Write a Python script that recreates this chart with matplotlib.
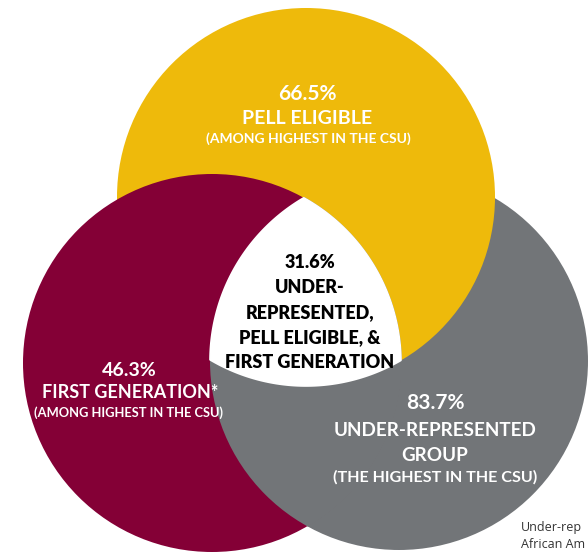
import numpy as np
import matplotlib
matplotlib.use("Agg")
import matplotlib.pyplot as plt
from matplotlib.patches import Circle, Polygon

# ---- data ----
groups = ["Pell Eligible", "First Generation", "Under-Represented Group"]
values = [66.5, 46.3, 83.7]
overlap_value = 31.6
headings = [["PELL ELIGIBLE"], ["FIRST GENERATION*"], ["UNDER-REPRESENTED", "GROUP"]]
notes = ["(AMONG HIGHEST IN THE CSU)", "(AMONG HIGHEST IN THE CSU)", "(THE HIGHEST IN THE CSU)"]
overlap_lines = ["UNDER-", "REPRESENTED,", "PELL ELIGIBLE, &", "FIRST GENERATION"]
footnote_lines = ["Under-rep", "African Am"]

# ---- style / layout ----
colors = ["#EEBA0B", "#840036", "#727578"]
centers = [(306, 197), (212, 363), (399, 361)]
R = 189

fig = plt.figure(figsize=(5.88, 5.54), dpi=100)
ax = fig.add_axes([0, 0, 1, 1])
ax.set_xlim(0, 588)
ax.set_ylim(554, 0)
ax.set_aspect("equal")
ax.axis("off")

# draw order: gray, yellow, maroon, then gray over maroon (cyclic overlap)
ax.add_patch(Circle(centers[2], R, fc=colors[2], ec="none", zorder=1))
ax.add_patch(Circle(centers[0], R, fc=colors[0], ec="none", zorder=2))
ax.add_patch(Circle(centers[1], R, fc=colors[1], ec="none", zorder=3))
g2 = Circle(centers[2], R, fc=colors[2], ec="none", zorder=4)
ax.add_patch(g2)
g2.set_clip_path(Circle(centers[1], R + 0.8, transform=ax.transData))

# triple intersection (white)
theta = np.linspace(0, 2 * np.pi, 3000)
pts = []
C = np.array(centers, dtype=float)
for i in range(3):
    p = C[i] + R * np.column_stack([np.cos(theta), np.sin(theta)])
    ok = np.ones(len(p), bool)
    for j in range(3):
        if j != i:
            ok &= np.hypot(*(p - C[j]).T) <= R + 1e-6
    pts.append(p[ok])
pts = np.vstack(pts)
cen = pts.mean(axis=0)
order = np.argsort(np.arctan2(pts[:, 1] - cen[1], pts[:, 0] - cen[0]))
ax.add_patch(Polygon(pts[order], closed=True, fc="white", ec="white", lw=1.2,
                     joinstyle="round", zorder=5))

font = "Lato"
# yellow texts
ax.text(307, 100, f"{values[0]}%", ha="center", va="baseline", color="white",
        fontsize=15, fontweight="bold", family=font, zorder=10)
ax.text(307, 124, headings[0][0], ha="center", va="baseline", color="white",
        fontsize=14, fontweight="bold", family=font, zorder=10)
ax.text(308, 143, notes[0], ha="center", va="baseline", color="white",
        fontsize=10, fontweight="bold", family=font, zorder=10)

# maroon texts
ax.text(129, 376, f"{values[1]}%", ha="center", va="baseline", color="white",
        fontsize=14, fontweight="bold", family=font, zorder=10)
ax.text(130, 398, headings[1][0], ha="center", va="baseline", color="white",
        fontsize=13, fontweight="bold", family=font, zorder=10)
ax.text(129, 417, notes[1], ha="center", va="baseline", color="white",
        fontsize=9.3, fontweight="bold", family=font, zorder=10)

# gray texts
ax.text(435, 409, f"{values[2]}%", ha="center", va="baseline", color="white",
        fontsize=15, fontweight="bold", family=font, zorder=10)
ax.text(435, 436, headings[2][0], ha="center", va="baseline", color="white",
        fontsize=13.6, fontweight="bold", family=font, zorder=10)
ax.text(435, 461, headings[2][1], ha="center", va="baseline", color="white",
        fontsize=13.6, fontweight="bold", family=font, zorder=10)
ax.text(435, 482, notes[2], ha="center", va="baseline", color="white",
        fontsize=11.6, fontweight="bold", family=font, zorder=10)

# center texts
ys = [268, 293, 318, 343, 368]
lines = [f"{overlap_value}%"] + overlap_lines
for y, s in zip(ys, lines):
    ax.text(310, y, s, ha="center", va="baseline", color="black",
            fontsize=13, fontweight="heavy", family=font, zorder=10)

# footnote (only the visible part at the right edge, as in the source)
ax.text(521, 531, footnote_lines[0], ha="left", va="baseline", color="#333333",
        fontsize=9, family="Open Sans", zorder=10)
ax.text(521, 548, footnote_lines[1], ha="left", va="baseline", color="#333333",
        fontsize=9, family="Open Sans", zorder=10)

fig.savefig("out.png", dpi=100)
